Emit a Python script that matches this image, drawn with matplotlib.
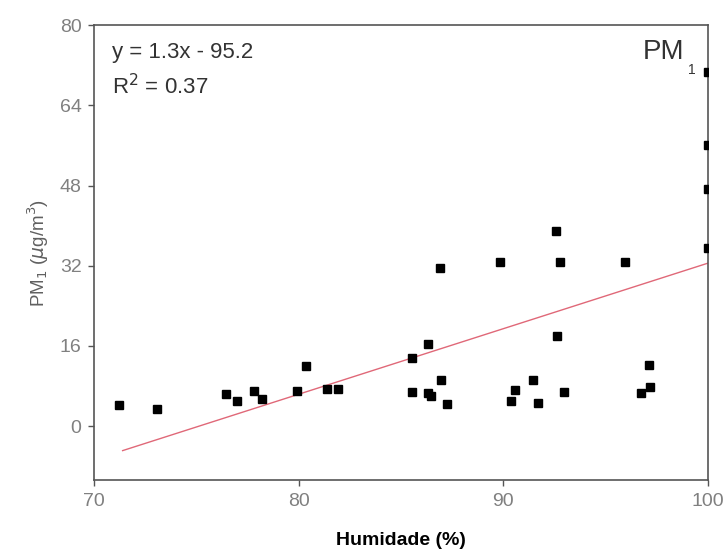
import matplotlib.pyplot as plt

plt.rcParams['font.family'] = ['Liberation Sans', 'DejaVu Sans']

# humidade (%) e PM1 (ug/m3)
humidade = [71.24, 73.1, 76.45, 77.0, 77.8, 78.2, 79.9, 80.36, 81.4, 81.94,
            85.52, 86.33, 85.52, 86.3, 86.46, 86.98, 87.23, 90.36, 90.58, 91.46,
            91.72, 92.62, 92.99, 96.75, 97.16, 97.13,
            100.0, 100.0, 100.0, 100.0, 92.6, 86.9, 89.83, 92.77, 95.97]
pm1 = [4.2, 3.4, 6.3, 5.0, 7.0, 5.3, 7.0, 12.0, 7.3, 7.3,
       13.6, 16.3, 6.85, 6.5, 6.05, 9.2, 4.5, 5.05, 7.2, 9.2,
       4.7, 18.0, 6.8, 6.5, 7.85, 12.2,
       70.6, 56.1, 47.3, 35.5, 39.0, 31.6, 32.7, 32.7, 32.7]

# linha de ajuste (extremos)
fit_x = [71.4, 100.0]
fit_y = [-4.9, 32.5]

fig = plt.figure(figsize=(7.23, 5.59), dpi=100)
ax = fig.add_axes([0.130, 0.141, 0.849, 0.814])

ax.plot(fit_x, fit_y, color='#e06878', lw=1.0, zorder=2)
ax.plot(humidade, pm1, 's', color='black', markersize=5.8, zorder=3)

ax.set_xlim(70, 100)
ax.set_ylim(-10.8, 80)
ax.set_xticks([70, 80, 90, 100])
ax.set_yticks([0, 16, 32, 48, 64, 80])

for s in ax.spines.values():
    s.set_color('#555555')
    s.set_linewidth(1.2)
ax.tick_params(direction='out', length=4, width=1, colors='#555555',
               labelcolor='#808080', labelsize=14, pad=5)

ax.set_xlabel('Humidade (%)', fontsize=14, fontweight='bold', labelpad=16)
ax.set_ylabel(r'PM$_1$ ($\mu$g/m$^3$)', fontsize=13.5, color='#606060', labelpad=6)

ax.text(0.03, 0.94, 'y = 1.3x - 95.2', transform=ax.transAxes,
        fontsize=16, color='#333333', va='center')
ax.text(0.03, 0.866, r'R$^2$ = 0.37', transform=ax.transAxes,
        fontsize=16, color='#333333', va='center')
ax.text(0.962, 0.942, 'PM', transform=ax.transAxes,
        fontsize=20, color='#333333', va='center', ha='right')
ax.text(0.967, 0.902, '1', transform=ax.transAxes,
        fontsize=10, color='#333333', va='center', ha='left')

fig.savefig('out.png', dpi=100)
